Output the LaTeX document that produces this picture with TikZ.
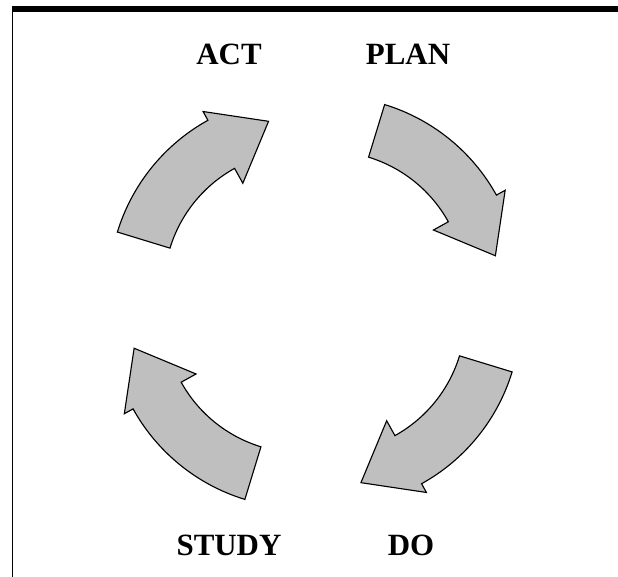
\documentclass[tikz,border=0pt]{standalone}
\usepackage{fontspec}
\setmainfont{Liberation Serif}
\tikzset{
  relleno/.style={draw=black, line width=0.8pt, fill=black!25, line join=miter},
  etiqueta/.style={font=\bfseries\fontsize{22}{26}\selectfont, inner sep=0pt},
  flechacurva/.pic={
    \draw[relleno] (73:192) arc[start angle=73, end angle=29, radius=192]
      -- (29:202) -- (11:170) -- (29:120) -- (29:137)
      arc[start angle=29, end angle=73, radius=137] -- cycle;
  }
}
\begin{document}
\begin{tikzpicture}[x=0.025cm,y=0.025cm]
    \useasboundingbox (0,0) rectangle (618,577);
    % Marco
    \fill (12,565) rectangle (618,571);
    \draw[line width=1pt] (12.7,571) -- (12.7,0);
    % Etiquetas
    \node[etiqueta] (act) at (229,523) {ACT};
    \node[etiqueta] (plan) at (408,523) {PLAN};
    \node[etiqueta] (study) at (229,32) {STUDY};
    \node[etiqueta] (do) at (411,32) {DO};
    % Flechas del ciclo
    \pic at (328.5,288.8) {flechacurva};
    \pic[rotate=-90] at (328.5,261.2) {flechacurva};
    \pic[rotate=180] at (301,261.2) {flechacurva};
    \pic[rotate=90] at (301,288.8) {flechacurva};
\end{tikzpicture}
\end{document}
